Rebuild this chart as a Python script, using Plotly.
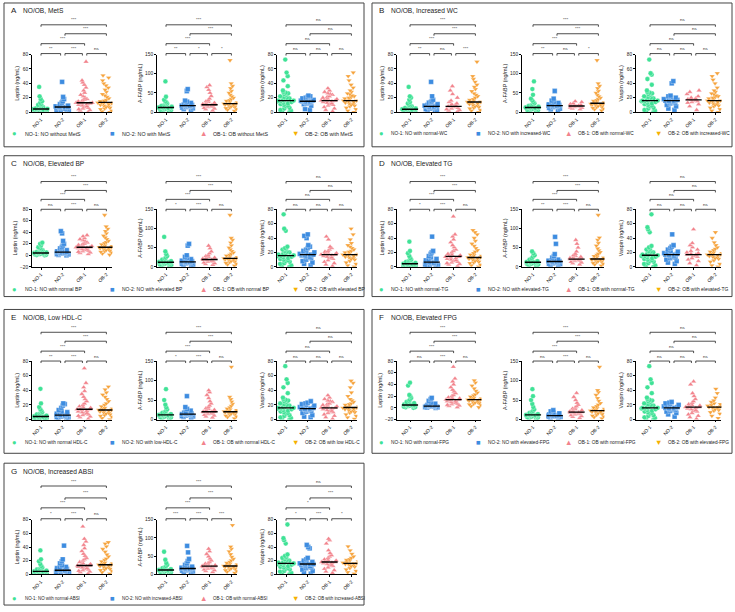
import plotly.graph_objects as go
import numpy as np

W, H = 735, 612

groups = ['NO-1', 'NO-2', 'OB-1', 'OB-2']
colors = ['#3FE296', '#3D8CE0', '#F2838C', '#F6A33C']
symbols = ['circle', 'square', 'triangle-up', 'triangle-down']
legend_colors = ['#3FE296', '#3D8CE0', '#F2838C', '#F5B100']
legend_glyphs = ['●', '■', '▲', '▼']

panel_titles = {
    'A': 'NO/OB, MetS', 'B': 'NO/OB, Increased WC', 'C': 'NO/OB, Elevated BP',
    'D': 'NO/OB, Elevated TG', 'E': 'NO/OB, Low HDL-C', 'F': 'NO/OB, Elevated FPG',
    'G': 'NO/OB, Increased ABSI',
}
legend_texts = {
    'A': ['NO-1: NO without MetS', 'NO-2: NO with MetS', 'OB-1: OB without MetS', 'OB-2: OB with MetS'],
    'B': ['NO-1: NO with normal-WC', 'NO-2: NO with increased-WC', 'OB-1: OB with normal-WC', 'OB-2: OB with increased-WC'],
    'C': ['NO-1: NO with normal BP', 'NO-2: NO with elevated BP', 'OB-1: OB with normal BP', 'OB-2: OB with elevated BP'],
    'D': ['NO-1: NO with normal-TG', 'NO-2: NO with elevated-TG', 'OB-1: OB with normal-TG', 'OB-2: OB with elevated-TG'],
    'E': ['NO-1: NO with normal HDL-C', 'NO-2: NO with low-HDL-C', 'OB-1: OB with normal HDL-C', 'OB-2: OB with low HDL-C'],
    'F': ['NO-1: NO with normal-FPG', 'NO-2: NO with elevated-FPG', 'OB-1: OB with normal-FPG', 'OB-2: OB with elevated-FPG'],
    'G': ['NO-1: NO with normal-ABSI', 'NO-2: NO with increased-ABSI', 'OB-1: OB with normal-ABSI', 'OB-2: OB with increased-ABSI'],
}

# significance: [1 vs 4, 2 vs 4, 1 vs 3, 1 vs 2, 2 vs 3, 3 vs 4]
NS6 = ['ns'] * 6
sig = {
    'A': [['***', '***', '***', '**', '***', 'ns'], ['***', '***', '***', '**', '*', '*'], NS6],
    'B': [['***', '***', '***', '**', 'ns', '***'], ['***', '***', '***', '**', 'ns', '*'], NS6],
    'C': [['***', '***', '***', 'ns', '***', 'ns'], ['***', '***', '***', '*', '***', 'ns'], NS6],
    'D': [['***', '***', '***', '*', '***', 'ns'], ['***', '***', '***', '**', '***', 'ns'], NS6],
    'E': [['***', '***', '***', '**', '***', 'ns'], ['***', '***', '***', '*', '***', 'ns'], NS6],
    'F': [['***', '***', '***', 'ns', '***', 'ns'], ['***', '***', '***', 'ns', '***', 'ns'], NS6],
    'G': [['***', '***', '***', '*', '***', 'ns'], ['***', '***', '***', '***', '***', '***'],
          ['ns', '***', '*', '*', '***', '*']],
}

# values (ng/mL), groups NO-1, NO-2, OB-1, OB-2
A_leptin = [
    [0, 0.5, 1, 1, 1.5, 2, 2, 2.5, 3, 3, 3.5, 3.5, 4, 4, 4, 4.5, 5, 5, 6, 6, 7, 8, 9, 10, 11, 13, 15, 18, 22, 35],
    [0.5, 1, 2, 3, 3, 4, 5, 5, 6, 6, 7, 7, 7, 8, 8, 9, 10, 11, 13, 15, 18, 21, 42],
    [0, 2, 3, 4, 5, 6, 7, 8, 9, 10, 11, 12, 12, 13, 13, 13, 14, 15, 16, 17, 18, 20, 22, 24, 27, 30, 34, 38, 41, 44, 70],
    [0, 1, 2, 4, 5, 6, 7, 8, 9, 10, 11, 12, 12, 13, 13, 13, 14, 15, 16, 17, 19, 21, 23, 25, 28, 31, 34, 37, 40, 44, 48, 51],
]
A_fabp = [
    [2, 4, 5, 6, 7, 8, 9, 10, 10, 11, 11, 12, 12, 12, 13, 14, 15, 16, 18, 20, 22, 25, 28, 32, 40, 80],
    [6, 8, 10, 12, 13, 14, 15, 16, 17, 17, 17, 18, 19, 20, 22, 24, 27, 30, 55, 60],
    [4, 7, 9, 11, 13, 14, 15, 16, 17, 18, 19, 19, 19, 21, 22, 24, 26, 28, 31, 35, 42, 50, 58, 65, 70],
    [3, 6, 8, 10, 12, 14, 15, 16, 18, 19, 20, 21, 22, 22, 22, 25, 27, 29, 31, 34, 37, 41, 45, 50, 55, 62, 68, 75, 135],
]
A_vaspin = [
    [0, 1, 2, 3, 5, 6, 8, 9, 10, 11, 12, 13, 14, 15, 15, 16, 16, 16, 17, 18, 19, 20, 21, 22, 24, 25, 26, 27, 28, 30, 36, 44, 50, 55, 73],
    [3, 4, 9, 11, 12, 13, 13, 14, 14, 15, 15, 15, 16, 16, 17, 17, 18, 19, 20, 21, 22, 23],
    [1, 3, 5, 7, 9, 10, 11, 12, 13, 14, 15, 16, 16, 16, 17, 18, 19, 20, 21, 22, 24, 25, 26, 28, 30, 33],
    [0, 2, 4, 6, 8, 9, 10, 11, 12, 13, 14, 15, 16, 16, 16, 16, 18, 19, 20, 21, 22, 23, 25, 26, 28, 30, 34, 38, 44, 50, 55],
]

B_leptin = [
    [0, 0.5, 1, 1, 1.5, 2, 2, 3, 3, 3, 3.5, 4, 4, 4, 4, 5, 5, 6, 6, 7, 8, 9, 10, 12, 14, 17, 20, 22, 35],
    [1, 2, 3, 4, 5, 6, 6, 7, 7, 8, 8, 8, 9, 9, 10, 11, 12, 13, 14, 15, 17, 22, 42],
    [1, 2, 3, 4, 5, 6, 7, 8, 8, 8, 10, 11, 12, 14, 16, 20, 25, 30, 36],
    [0, 2, 3, 5, 6, 7, 8, 9, 10, 11, 12, 13, 14, 14, 14, 14, 16, 17, 18, 20, 22, 24, 26, 29, 32, 35, 38, 42, 46, 50, 70],
]
B_fabp = [
    [2, 3, 5, 6, 7, 8, 9, 10, 10, 11, 11, 12, 12, 12, 13, 14, 15, 16, 18, 20, 23, 26, 30, 35, 45, 60, 80],
    [5, 7, 9, 11, 13, 14, 15, 16, 17, 17, 17, 18, 19, 20, 22, 24, 27, 30, 35, 55],
    [7, 9, 11, 12, 13, 14, 15, 16, 16, 16, 17, 18, 19, 21, 23, 26, 28],
    [4, 7, 9, 11, 13, 14, 16, 17, 18, 19, 20, 21, 21, 21, 23, 25, 27, 29, 31, 34, 37, 41, 45, 50, 55, 62, 68, 75, 135],
]
B_vaspin = [
    [0, 1, 2, 3, 5, 6, 8, 9, 10, 11, 12, 13, 14, 15, 15, 16, 16, 16, 17, 18, 19, 20, 21, 22, 24, 25, 26, 27, 28, 30, 38, 46, 52, 54, 73],
    [3, 5, 8, 10, 12, 13, 14, 15, 15, 16, 16, 16, 17, 18, 19, 20, 21, 22, 23, 40, 43],
    [3, 8, 11, 13, 14, 15, 16, 17, 17, 18, 19, 20, 22, 25, 28, 30],
    [0, 2, 4, 6, 8, 9, 10, 11, 12, 13, 14, 15, 16, 16, 16, 16, 18, 19, 20, 21, 22, 23, 25, 26, 28, 30, 34, 40, 45, 50, 54],
]

C_leptin = [
    [0, 0.5, 1, 1.5, 2, 2, 2.5, 3, 3, 3.5, 4, 4, 4, 4, 5, 5, 6, 6, 7, 8, 9, 10, 12, 14, 17, 20, 22],
    [0, 1, 1.5, 2, 3, 3, 4, 4, 5, 5, 5, 5, 6, 7, 8, 9, 10, 12, 14, 17, 20, 25, 38, 42],
    [2, 4, 5, 6, 7, 8, 9, 10, 11, 12, 13, 14, 14, 14, 15, 16, 17, 18, 19, 20, 22, 24, 26, 28, 30, 33, 35],
    [1, 3, 5, 6, 7, 8, 9, 10, 11, 12, 13, 14, 14, 14, 14, 16, 17, 19, 21, 23, 25, 28, 31, 34, 38, 42, 46, 50, 70],
]
C_fabp = [
    [2, 4, 5, 6, 7, 8, 9, 10, 10, 11, 12, 12, 12, 13, 14, 15, 17, 19, 21, 24, 28, 33, 40, 78],
    [3, 5, 6, 8, 9, 10, 11, 12, 13, 13, 13, 14, 15, 16, 18, 20, 23, 26, 30, 55, 60],
    [5, 7, 9, 11, 13, 14, 15, 16, 17, 18, 19, 19, 20, 21, 22, 24, 26, 28, 31, 35, 40, 48, 55],
    [3, 6, 8, 10, 12, 14, 15, 16, 18, 19, 20, 21, 22, 22, 22, 25, 27, 29, 31, 34, 37, 41, 45, 50, 56, 63, 70, 75, 135],
]
C_vaspin = [
    [0, 1, 2, 4, 5, 7, 8, 9, 10, 11, 12, 13, 14, 15, 15, 16, 16, 17, 18, 19, 20, 21, 22, 24, 25, 26, 28, 50, 53, 73],
    [2, 4, 6, 8, 10, 12, 13, 14, 15, 16, 17, 17, 17, 18, 19, 20, 21, 22, 24, 26, 28, 30, 40, 43, 45],
    [1, 3, 5, 7, 9, 11, 12, 13, 14, 15, 16, 17, 17, 17, 18, 19, 20, 21, 22, 24, 26, 28, 38, 42],
    [0, 2, 4, 6, 8, 10, 11, 12, 13, 14, 15, 16, 17, 17, 17, 18, 19, 20, 21, 22, 24, 26, 28, 30, 33, 38, 45, 53],
]

D_leptin = [
    [0, 0.5, 1, 1, 1.5, 2, 2.5, 3, 3, 3.5, 4, 4, 4, 4.5, 5, 5.5, 6, 7, 8, 9, 10, 12, 15, 19, 22, 35],
    [0, 1, 2, 3, 3, 4, 5, 5, 6, 6, 6, 7, 8, 9, 10, 11, 13, 15, 18, 20, 22, 42],
    [1, 3, 4, 5, 6, 7, 8, 9, 10, 11, 12, 13, 14, 14, 15, 16, 17, 18, 20, 22, 24, 27, 30, 34, 38, 42, 45, 70],
    [0, 2, 3, 5, 6, 7, 8, 9, 10, 11, 12, 13, 13, 13, 13, 15, 16, 17, 19, 21, 23, 26, 29, 32, 36, 40, 45, 48, 51],
]
D_fabp = [
    [3, 5, 6, 7, 8, 9, 10, 10, 11, 11, 12, 12, 12, 13, 14, 15, 17, 19, 22, 26, 30, 35, 40],
    [3, 5, 7, 8, 9, 10, 11, 12, 13, 14, 14, 14, 15, 16, 17, 19, 21, 24, 28, 33, 60, 78],
    [6, 9, 11, 13, 15, 16, 17, 18, 19, 20, 20, 20, 22, 23, 24, 26, 28, 30, 34, 40, 50, 60, 70],
    [3, 6, 8, 10, 12, 14, 15, 16, 17, 18, 19, 20, 20, 20, 21, 24, 26, 28, 31, 34, 38, 43, 48, 55, 62, 70, 76, 135],
]
D_vaspin = [
    [0, 1, 2, 4, 5, 7, 8, 9, 10, 11, 12, 13, 14, 15, 15, 16, 16, 17, 18, 19, 20, 21, 22, 24, 25, 27, 29, 48, 52, 55, 73],
    [4, 6, 8, 10, 12, 13, 14, 15, 16, 17, 17, 17, 18, 19, 20, 21, 22, 24, 26, 28, 30, 45],
    [2, 5, 8, 10, 12, 14, 15, 16, 17, 17, 17, 18, 19, 20, 22, 24, 27, 30, 33, 52],
    [0, 2, 4, 7, 9, 11, 12, 13, 14, 15, 16, 17, 17, 17, 18, 19, 20, 21, 23, 25, 27, 30, 34, 40, 48],
]

E_leptin = [
    [0, 0.5, 1, 1.5, 2, 2, 2.5, 3, 3, 3.5, 4, 4, 4, 4.5, 5, 5.5, 6, 7, 8, 9, 10, 12, 14, 17, 22, 42],
    [0, 1, 2, 3, 4, 4, 5, 5, 6, 6, 6, 6, 7, 8, 9, 10, 11, 13, 16, 19, 21, 22],
    [1, 3, 4, 5, 6, 7, 8, 9, 10, 11, 12, 13, 14, 14, 14, 16, 17, 18, 20, 22, 25, 28, 31, 35, 39, 44, 50, 70],
    [0, 2, 4, 5, 6, 7, 8, 9, 10, 11, 12, 13, 13, 13, 14, 15, 16, 18, 20, 22, 25, 28, 31, 34, 37, 41, 45],
]
E_fabp = [
    [2, 4, 5, 6, 7, 8, 9, 10, 10, 11, 11, 12, 12, 12, 13, 14, 15, 17, 19, 22, 26, 31, 38, 50, 78],
    [4, 6, 8, 9, 10, 11, 12, 13, 14, 14, 14, 15, 16, 18, 20, 23, 27, 32, 60],
    [5, 8, 10, 12, 14, 15, 16, 17, 18, 19, 20, 20, 20, 20, 23, 25, 27, 29, 32, 36, 41, 47, 55, 63, 70, 75],
    [3, 6, 8, 10, 12, 14, 15, 16, 17, 18, 19, 20, 20, 21, 22, 24, 26, 28, 31, 35, 40, 46, 52, 58, 135],
]
E_vaspin = [
    [0, 1, 2, 3, 5, 6, 8, 9, 10, 11, 12, 13, 14, 15, 15, 16, 16, 16, 17, 18, 19, 20, 21, 22, 24, 25, 26, 27, 28, 30, 36, 44, 50, 55, 73],
    [3, 4, 6, 9, 11, 12, 13, 14, 14, 15, 15, 15, 16, 17, 18, 19, 20, 21, 22, 23, 25],
    [1, 3, 5, 7, 9, 10, 11, 12, 13, 14, 15, 16, 16, 16, 17, 18, 19, 20, 21, 22, 24, 25, 26, 28, 30, 33],
    [1, 3, 5, 7, 9, 10, 11, 12, 13, 14, 15, 16, 16, 16, 17, 18, 19, 20, 21, 22, 24, 26, 28, 32, 37, 44, 50, 53],
]

F_leptin = [
    [0, 1, 1.5, 2, 3, 3, 3.5, 4, 4, 5, 5, 5, 5, 6, 7, 8, 9, 10, 12, 14, 17, 20, 22, 38, 43],
    [0, 0.5, 1, 1.5, 2, 2, 2.5, 3, 3, 3, 3, 4, 4.5, 5, 6, 7, 9, 12, 15, 17],
    [1, 3, 4, 5, 6, 7, 8, 9, 10, 11, 12, 13, 14, 14, 14, 16, 17, 18, 20, 22, 25, 28, 31, 35, 40, 45, 50, 70],
    [1, 3, 5, 6, 7, 8, 9, 10, 11, 12, 13, 14, 14, 14, 15, 16, 17, 19, 21, 23, 26, 29, 33, 38, 43, 47],
]
F_fabp = [
    [2, 4, 5, 6, 7, 8, 9, 10, 10, 11, 11, 12, 12, 12, 13, 14, 15, 17, 19, 22, 26, 32, 40, 50, 60, 78],
    [3, 5, 6, 7, 8, 8, 9, 9, 10, 10, 10, 11, 12, 13, 14, 16, 18, 21, 24],
    [4, 7, 9, 11, 13, 14, 15, 16, 17, 18, 19, 19, 19, 21, 22, 24, 26, 28, 31, 34, 38, 43, 50, 58, 68],
    [3, 6, 8, 10, 12, 14, 16, 18, 19, 20, 21, 22, 23, 23, 25, 27, 29, 31, 34, 38, 42, 48, 55, 63, 70, 75, 135],
]
F_vaspin = [
    [0, 1, 2, 3, 5, 6, 8, 9, 10, 11, 12, 13, 14, 15, 15, 16, 16, 16, 17, 18, 19, 20, 21, 22, 24, 25, 26, 27, 28, 30, 36, 44, 50, 55, 73],
    [4, 7, 9, 11, 12, 13, 14, 15, 15, 16, 16, 16, 17, 18, 19, 20, 21, 22, 23, 24],
    [1, 3, 5, 7, 9, 11, 12, 13, 14, 15, 16, 17, 17, 17, 18, 19, 20, 21, 23, 25, 28, 32, 36, 48, 52],
    [2, 5, 8, 10, 12, 13, 14, 15, 16, 17, 17, 17, 18, 19, 20, 21, 22, 24, 26, 30, 36, 42],
]

G_leptin = [
    [0, 0.5, 1, 1, 1.5, 2, 2.5, 3, 3, 3.5, 4, 4, 4, 4.5, 5, 5.5, 6, 7, 8, 9, 10, 12, 15, 19, 22, 35],
    [0, 1, 2, 3, 3, 4, 5, 5, 6, 6, 6, 7, 8, 9, 10, 11, 13, 16, 19, 22, 42],
    [1, 3, 4, 5, 6, 7, 8, 9, 10, 11, 12, 13, 13, 13, 13, 15, 16, 18, 20, 22, 24, 27, 30, 34, 38, 43, 48, 52, 70],
    [1, 3, 5, 6, 7, 8, 9, 10, 11, 12, 13, 14, 14, 14, 15, 16, 17, 19, 21, 23, 26, 29, 33, 37, 41, 45, 47],
]
G_fabp = [
    [2, 4, 5, 6, 7, 8, 9, 10, 10, 11, 11, 12, 12, 12, 13, 14, 15, 17, 19, 22, 26, 31, 40, 62],
    [4, 6, 8, 10, 11, 12, 13, 14, 15, 16, 16, 16, 17, 18, 19, 21, 23, 26, 30, 36, 42, 60, 78],
    [6, 9, 11, 13, 15, 16, 17, 18, 19, 20, 21, 22, 22, 23, 24, 25, 27, 29, 31, 34, 38, 43, 49, 56, 63, 70],
    [4, 7, 9, 11, 13, 15, 16, 18, 19, 20, 21, 22, 23, 23, 25, 27, 29, 31, 34, 38, 42, 48, 55, 63, 70, 76, 135],
]
G_vaspin = [
    [0, 1, 2, 4, 5, 7, 8, 9, 10, 11, 12, 13, 14, 15, 15, 16, 16, 17, 18, 19, 20, 21, 22, 24, 25, 27, 29, 45, 50, 53, 73],
    [1, 3, 5, 7, 9, 10, 11, 12, 13, 14, 15, 15, 15, 16, 17, 18, 19, 20, 22, 24, 38, 40, 43],
    [2, 4, 6, 8, 10, 12, 13, 14, 15, 16, 17, 18, 18, 18, 19, 20, 21, 22, 24, 26, 28, 31, 35, 45, 50, 52],
    [1, 3, 5, 7, 9, 11, 12, 13, 14, 15, 16, 16, 16, 17, 18, 19, 20, 21, 22, 24, 26, 30, 35, 41],
]

panel_data = {
    'A': [A_leptin, A_fabp, A_vaspin], 'B': [B_leptin, B_fabp, B_vaspin],
    'C': [C_leptin, C_fabp, C_vaspin], 'D': [D_leptin, D_fabp, D_vaspin],
    'E': [E_leptin, E_fabp, E_vaspin], 'F': [F_leptin, F_fabp, F_vaspin],
    'G': [G_leptin, G_fabp, G_vaspin],
}

y_titles = ['Leptin (ng/mL)', 'A-FABP (ng/mL)', 'Vaspin (ng/mL)']

# panel placement in pixels: left, top, row style
panels = [('A', 4, 1, 0), ('B', 372, 1, 0), ('C', 4, 155, 1), ('D', 372, 155, 1),
          ('E', 4, 310, 2), ('F', 372, 310, 2), ('G', 4, 465, 3)]
PW = 360
PH = [145, 142, 145, 143]
BR_Y = [[22, 31, 41, 51], [26, 35, 44, 54], [23, 32, 42, 52], [23, 35, 45, 56]]
AX_Y = [[52, 110], [54, 112], [52, 111], [57, 112]]
LEG_Y = [132, 135, 134, 136]
SP = 21.8


def px(x):
    return x / W


def py(y):
    return 1 - y / H


fig = go.Figure()
layout = dict(width=W, height=H, margin=dict(l=0, r=0, t=0, b=0),
              paper_bgcolor='white', plot_bgcolor='white', showlegend=False,
              font=dict(family='Liberation Sans, Arial', color='#222'))
shapes = []
annotations = []

k = 0
for name, left, top, row in panels:
    right_side = left > 300
    axis_rel = [25, 150, 264] if right_side else [28, 153, 273]
    cat0_rel = [38, 161, 278] if right_side else [37, 162, 282]
    leg_x = [9, 106, 196, 286] if right_side else [11, 108, 199, 291]
    # panel border
    shapes.append(dict(type='rect', xref='paper', yref='paper',
                       x0=px(left), x1=px(left + PW), y0=py(top), y1=py(top + PH[row]),
                       line=dict(color='#444', width=1)))
    annotations.append(dict(x=px(left + 5), y=py(top + 8), xref='paper', yref='paper',
                            text=name, showarrow=False, xanchor='left', yanchor='middle',
                            font=dict(size=8, color='#222')))
    annotations.append(dict(x=px(left + 17), y=py(top + 8), xref='paper', yref='paper',
                            text=panel_titles[name], showarrow=False, xanchor='left',
                            yanchor='middle', font=dict(size=6.6, color='#222')))
    # legend row
    leg_size = min(5.3, 62 / (0.5 * max(len(t) for t in legend_texts[name])))
    for g, xr in enumerate(leg_x):
        annotations.append(dict(x=px(left + xr), y=py(top + LEG_Y[row]), xref='paper', yref='paper',
                                text=legend_glyphs[g], showarrow=False, xanchor='center',
                                yanchor='middle', font=dict(size=7.5, color=legend_colors[g])))
        annotations.append(dict(x=px(left + xr + 8), y=py(top + LEG_Y[row]), xref='paper', yref='paper',
                                text=legend_texts[name][g], showarrow=False, xanchor='left',
                                yanchor='middle', font=dict(size=leg_size, color='#222')))

    for m in range(3):
        k += 1
        xa = 'x' if k == 1 else f'x{k}'
        ya = 'y' if k == 1 else f'y{k}'
        xl = 'xaxis' if k == 1 else f'xaxis{k}'
        yl = 'yaxis' if k == 1 else f'yaxis{k}'
        a0 = left + axis_rel[m]
        c0 = left + cat0_rel[m]
        a1 = c0 + 3 * SP + 6
        xr = [-(c0 - a0) / SP, 3 + 6 / SP]
        if m == 0:
            yrange = [-20, 80] if name in ('C', 'F') else [0, 80]
            dtick = 20
        elif m == 1:
            yrange, dtick = [0, 150], 50
        else:
            yrange, dtick = [0, 80], 20
        layout[xl] = dict(domain=[px(a0), px(a1)], range=xr, anchor=ya,
                          tickvals=[0, 1, 2, 3], ticktext=groups, tickangle=-45,
                          showline=True, linecolor='black', linewidth=0.8,
                          ticks='outside', ticklen=2, tickwidth=0.8, tickcolor='black',
                          tickfont=dict(size=4.8), showgrid=False, zeroline=False)
        layout[yl] = dict(domain=[py(top + AX_Y[row][1]), py(top + AX_Y[row][0])],
                          range=yrange, dtick=dtick, tick0=0, anchor=xa,
                          showline=True, linecolor='black', linewidth=0.8,
                          ticks='outside', ticklen=2, tickwidth=0.8, tickcolor='black',
                          tickfont=dict(size=4.8), showgrid=False, zeroline=False,
                          title=dict(text=y_titles[m], font=dict(size=5.4), standoff=2))
        vals = panel_data[name][m]
        for g in range(4):
            v = vals[g]
            fig.add_trace(go.Box(
                x=[g] * len(v), y=v, xaxis=xa, yaxis=ya,
                boxpoints='all', jitter=1, pointpos=0, width=0.8,
                fillcolor='rgba(0,0,0,0)', line=dict(color='rgba(0,0,0,0)', width=0),
                marker=dict(symbol=symbols[g], size=4.8, color=colors[g],
                            line=dict(color='white', width=0.3)),
                hoveron='points', showlegend=False, name=groups[g]))
        for g in range(4):
            med = float(np.median(vals[g]))
            fig.add_trace(go.Scatter(x=[g - 0.37, g + 0.37], y=[med, med], mode='lines',
                                     line=dict(color='black', width=1.4), xaxis=xa, yaxis=ya,
                                     hoverinfo='skip', showlegend=False))
        # significance brackets
        spans = [(0, 3), (1.1, 3), (0, 2), (0, 0.9), (1.1, 1.9), (2.1, 3)]
        levels = [0, 1, 2, 3, 3, 3]
        for s, (x0, x1) in enumerate(spans):
            yl_px = top + BR_Y[row][levels[s]]
            yb = py(yl_px)
            yt = py(yl_px + 2)
            shapes.append(dict(type='path', xref=xa, yref='paper',
                               path=f'M {x0},{yt} L {x0},{yb} L {x1},{yb} L {x1},{yt}',
                               line=dict(color='#222', width=0.8)))
            annotations.append(dict(x=(x0 + x1) / 2, y=yb, xref=xa, yref='paper',
                                    text=sig[name][m][s], showarrow=False, xanchor='center',
                                    yanchor='bottom', yshift=0.5, font=dict(size=4.4, color='#333')))

layout['shapes'] = shapes
layout['annotations'] = annotations
fig.update_layout(**layout)
fig.write_html("out.html", config={'displayModeBar': False},
               post_script="document.body.style.margin='0px';")
